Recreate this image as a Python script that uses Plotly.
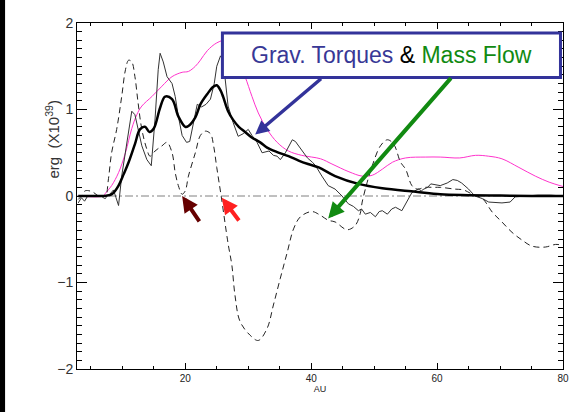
import plotly.graph_objects as go

# ---------------- data ----------------
thick_x = [3, 5, 7, 8, 8.5, 9.4, 10.2, 11.0, 12.0, 12.8, 13.6, 14.3, 15.0, 16.0, 16.8, 17.9, 18.9,
           20.0, 20.5, 21.6, 22.4, 23.5, 24.4, 25.0, 25.6, 26.0, 26.8, 27.6, 28.5, 29.5, 30.5, 31.9,
           33.0, 34.5, 36.4, 38.0, 39.5, 41.2, 43.8, 47.5, 51.3, 56.6, 60.5, 65, 70, 75, 80]
thick_y = [0, 0, 0, 0.01, 0.03, 0.12, 0.25, 0.39, 0.60, 0.77, 0.80, 0.74, 0.78, 1.02, 1.15, 1.12, 0.92,
           0.80, 0.81, 0.91, 1.06, 1.18, 1.26, 1.28, 1.22, 1.15, 0.98, 0.88, 0.80, 0.74, 0.68, 0.62,
           0.56, 0.51, 0.46, 0.41, 0.37, 0.33, 0.23, 0.14, 0.09, 0.05, 0.02, 0.01, 0.005, 0.0, 0.0]

thin_x = [3.0, 3.5, 4.0, 4.5, 5.5, 7, 8.0, 8.6, 9.0, 9.4, 9.9, 10.7, 11.5, 12.0, 12.4, 13.1, 13.9, 14.6,
          15.2, 15.7, 16.0, 16.5, 17.1, 17.9, 18.4, 18.9, 19.5, 20.2, 20.7, 21.3, 21.9, 22.6, 23.3, 24.0,
          24.6, 25.0, 25.6, 26.0, 26.4, 26.8, 27.6, 28.4, 29.2, 30.0, 30.6, 31.4, 32.2, 33.3, 34.0, 34.6,
          35.1, 35.9, 37.0, 37.5, 38.6, 39.4, 40.2, 40.7, 41.7, 42.7, 43.8, 44.9, 45.9, 46.7, 47.5, 48.0,
          48.6, 49.4, 50.2, 50.8, 51.3, 52.1, 52.8, 53.4, 54.4, 55.2, 56.0, 57.0, 57.5, 57.9, 58.5, 59.0,
          60.1, 60.5, 61.6, 62.5, 63.2, 63.9, 65.0, 66.0, 67.2, 68.2, 70.3, 71.6, 72.4, 74.5, 76, 78, 80]
thin_y = [-0.08, -0.02, -0.06, 0.0, 0.0, 0.0, 0.02, 0.07, -0.02, -0.11, 0.23, 0.58, 0.98, 0.94, 0.80, 0.58,
          0.42, 0.35, 0.89, 1.46, 1.65, 1.55, 1.38, 1.30, 1.15, 0.92, 0.70, 0.62, 0.63, 0.85, 1.06, 1.03,
          1.06, 1.12, 1.30, 1.50, 1.62, 1.58, 1.27, 1.04, 0.85, 0.69, 0.72, 0.77, 0.70, 0.62, 0.50, 0.52,
          0.47, 0.46, 0.42, 0.50, 0.65, 0.63, 0.52, 0.44, 0.39, 0.35, 0.23, 0.12, 0.08, 0.0, -0.09, -0.12,
          -0.17, -0.15, -0.21, -0.19, -0.24, -0.18, -0.17, -0.21, -0.15, -0.13, -0.17, -0.07, 0.04, 0.08,
          0.06, 0.08, 0.10, 0.14, 0.12, 0.12, 0.15, 0.19, 0.18, 0.15, 0.08, 0.0, -0.03, -0.07, -0.08,
          -0.07, -0.01, 0.0, 0.01, 0.01, 0.0]

dash_x = [3.0, 3.5, 4.1, 5.2, 6.2, 7.0, 7.3, 7.8, 8.3, 9.1, 9.9, 10.5, 11.0, 11.5, 12.0, 12.5, 13.1, 13.9,
          14.4, 15.2, 16.3, 17.1, 17.9, 18.4, 18.9, 19.5, 20.0, 20.5, 21.6, 22.4, 23.2, 24.0, 24.5, 25.0,
          25.7, 26.8, 27.4, 27.9, 28.7, 30.3, 31.6, 33.0, 34.0, 35.1, 36.2, 37.2, 38.3, 40.1, 41.4, 42.7,
          43.8, 45.7, 47.0, 47.8, 48.1, 48.9, 49.7, 51.0, 52.1, 53.1, 54.2, 55.0, 56.0, 56.8, 58.1, 59.5,
          60.5, 62.8, 64.2, 65.6, 67.2, 68.8, 70.3, 71.9, 73.5, 75.1, 77.2, 78.8, 80]
dash_y = [-0.04, 0.0, 0.06, 0.05, 0.0, -0.02, -0.03, 0.2, 0.50, 0.77, 1.15, 1.46, 1.57, 1.55, 1.38, 1.08,
          0.77, 0.54, 0.46, 0.52, 0.58, 0.62, 0.50, 0.27, 0.12, 0.02, 0.06, 0.23, 0.50, 0.70, 0.75, 0.72,
          0.58, 0.33, 0.0, -0.55, -0.80, -1.15, -1.45, -1.61, -1.67, -1.53, -1.26, -0.95, -0.65, -0.38,
          -0.24, -0.18, -0.22, -0.28, -0.30, -0.39, -0.34, -0.2, -0.07, 0.16, 0.35, 0.58, 0.65, 0.60,
          0.39, 0.31, 0.12, 0.08, 0.10, 0.10, 0.10, 0.08, 0.07, 0.02, -0.03, -0.19, -0.30, -0.42, -0.51,
          -0.58, -0.59, -0.56, -0.57]

mag_x = [3, 7, 7.3, 8.3, 9.4, 10.5, 11.5, 12.3, 13.1, 14.7, 16.3, 17.9, 19.5, 20.5, 21.6, 22.4, 23.5,
         25.0, 26.5, 27.8, 28.7, 29.5, 30.6, 31.6, 33.0, 34.6, 36.4, 38.5, 41.5, 43.3, 46.0, 48.1, 49.7,
         51.3, 52.9, 55.0, 58.2, 60.5, 63.6, 66.1, 68.2, 70.3, 73.0, 75.6, 77.8, 80]
mag_y = [0, 0.0, 0.03, 0.12, 0.27, 0.50, 0.78, 0.94, 1.04, 1.15, 1.27, 1.38, 1.43, 1.44, 1.50, 1.57, 1.68,
         1.77, 1.80, 1.70, 1.52, 1.38, 1.15, 0.96, 0.77, 0.62, 0.52, 0.47, 0.43, 0.37, 0.28, 0.23, 0.24,
         0.31, 0.39, 0.44, 0.45, 0.45, 0.44, 0.47, 0.46, 0.43, 0.33, 0.23, 0.16, 0.11]

x_range = [2.8, 80]
y_range = [-2, 2]
x_tickvals = [20, 40, 60, 80]
y_tickvals = [-2, -1, 0, 1, 2]
y_ticktext = ["\u22122", "\u22121", "0", "1", "2"]

FONT = "Liberation Sans, Arial, sans-serif"

fig = go.Figure()
fig.add_trace(go.Scatter(x=x_range, y=[0, 0], mode="lines",
                         line=dict(color="#808080", width=1, dash="8px,3px,2px,3px"),
                         hoverinfo="skip"))
fig.add_trace(go.Scatter(x=mag_x, y=mag_y, mode="lines",
                         line=dict(color="#ff33cc", width=1, shape="spline")))
fig.add_trace(go.Scatter(x=dash_x, y=dash_y, mode="lines",
                         line=dict(color="#222222", width=1, dash="6px,4px", shape="spline")))
fig.add_trace(go.Scatter(x=thin_x, y=thin_y, mode="lines",
                         line=dict(color="#333333", width=1)))
fig.add_trace(go.Scatter(x=thick_x, y=thick_y, mode="lines",
                         line=dict(color="#000000", width=2.5, shape="spline")))

# annotation box
fig.add_shape(type="rect", xref="x", yref="y", x0=25.9, x1=79.6, y0=1.37, y1=1.885,
              line=dict(color="#33339a", width=3), fillcolor="white", layer="above")
# left black border strip
fig.add_shape(type="rect", xref="paper", yref="paper", x0=-0.17, x1=-0.148, y0=-0.2, y1=1.1,
              line=dict(width=0), fillcolor="black", layer="below")

annos = [
    dict(x=52.8, y=1.63, xref="x", yref="y", showarrow=False,
         text="<span style='color:#383896'>Grav. Torques</span> & "
              "<span style='color:#118a11'>Mass Flow</span>",
         font=dict(family=FONT, size=23, color="black")),
    dict(x=31.1, y=0.71, ax=41.8, ay=1.37, color="#33339a", w=3.5),
    dict(x=42.7, y=-0.26, ax=62.4, ay=1.38, color="#118a11", w=4),
    dict(x=19.5, y=0.0, ax=22.4, ay=-0.31, color="#660000", w=4),
    dict(x=25.8, y=-0.02, ax=28.7, ay=-0.30, color="#ff2020", w=4),
]
out = [annos[0]]
for a in annos[1:]:
    out.append(dict(x=a["x"], y=a["y"], ax=a["ax"], ay=a["ay"], xref="x", yref="y",
                    axref="x", ayref="y", showarrow=True, arrowhead=2, arrowsize=0.8,
                    arrowwidth=a["w"], arrowcolor=a["color"], text=""))
out.append(dict(x=-0.074, y=0.662, xref="paper", yref="paper", showarrow=False, textangle=-90,
                text="erg  (X10<sup>39</sup>)", font=dict(family=FONT, size=15, color="#333333")))

fig.update_layout(
    width=582, height=412, margin=dict(l=77, r=19, t=23, b=43),
    paper_bgcolor="white", plot_bgcolor="white", showlegend=False,
    annotations=out,
    xaxis=dict(range=x_range, tickvals=x_tickvals, ticks="inside", ticklen=6, tickcolor="black",
               showline=True, linecolor="black", linewidth=1, mirror="ticks", showgrid=False,
               zeroline=False, tickfont=dict(family=FONT, size=10, color="#222222"),
               minor=dict(dtick=5, tick0=0, ticks="inside", ticklen=3, tickcolor="black"),
               title=dict(text="AU", font=dict(family=FONT, size=9, color="#222222"), standoff=2)),
    yaxis=dict(range=y_range, tickvals=y_tickvals, ticktext=y_ticktext, ticks="inside", ticklen=10,
               tickcolor="black", showline=True, linecolor="black", linewidth=1, mirror="ticks",
               showgrid=False, zeroline=False, tickfont=dict(family=FONT, size=14, color="#333333"),
               minor=dict(dtick=0.1, tick0=0, ticks="inside", ticklen=5, tickcolor="black")),
)

fig.write_html("out.html")
